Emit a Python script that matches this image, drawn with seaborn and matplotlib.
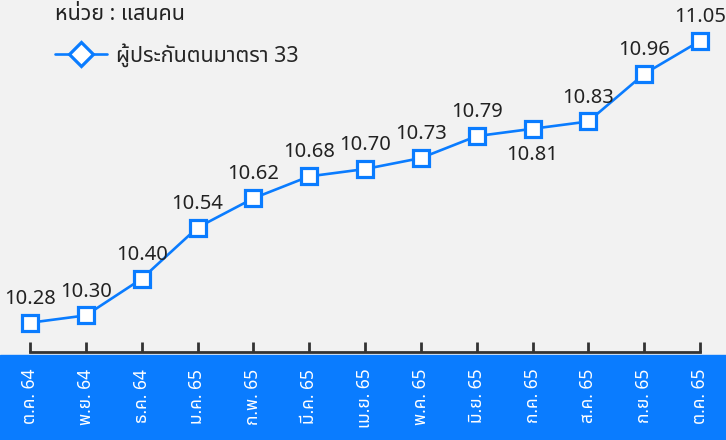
import numpy as np
import pandas as pd
import matplotlib.pyplot as plt
import matplotlib
import seaborn as sns
from matplotlib.lines import Line2D
from matplotlib.patches import Rectangle

months = ['ต.ค. 64', 'พ.ย. 64', 'ธ.ค. 64', 'ม.ค. 65', 'ก.พ. 65', 'มี.ค. 65', 'เม.ย. 65',
          'พ.ค. 65', 'มิ.ย. 65', 'ก.ค. 65', 'ส.ค. 65', 'ก.ย. 65', 'ต.ค. 65']
insured = [10.28, 10.30, 10.40, 10.54, 10.62, 10.68, 10.70, 10.73, 10.79, 10.81, 10.83, 10.96, 11.05]
series_name = 'ผู้ประกันตนมาตรา 33'
unit_text = 'หน่วย : แสนคน'

blue = '#0a7cff'
bg = '#f2f2f2'

sns.set_style('white')
plt.rcParams['font.family'] = ['Noto Sans Thai', 'Loma', 'Garuda', 'Tlwg Typo', 'Noto Sans', 'DejaVu Sans']

df = pd.DataFrame({'pos': np.arange(len(months)), 'value': insured})

fig = plt.figure(figsize=(7.26, 4.40), dpi=100, facecolor=bg)

# blue band behind the month labels
fig.patches.append(Rectangle((0, 0), 1, 85 / 440, transform=fig.transFigure,
                             color=blue, zorder=-5))

ax = fig.add_axes([30 / 726, 88 / 440, 670 / 726, 352 / 440])
ax.set_facecolor('none')
ax.set_zorder(2)

sns.lineplot(data=df, x='pos', y='value', ax=ax, color=blue, linewidth=1.9,
             marker='s', markersize=12, markerfacecolor='white',
             markeredgecolor=blue, markeredgewidth=2.3, clip_on=False)

for i, v in enumerate(insured):
    if i == 9:
        ax.annotate(f'{v:.2f}', (i, v), xytext=(0, -12), textcoords='offset points',
                    ha='center', va='top', fontsize=14.5, color='#222222')
    else:
        ax.annotate(f'{v:.2f}', (i, v), xytext=(0, 10), textcoords='offset points',
                    ha='center', va='bottom', fontsize=14.5, color='#222222')

ax.set_xlim(0, len(months) - 1)
ax.set_ylim(10.2, 11.162)
ax.set_xticks(df['pos'])
ax.set_xticklabels(months, rotation=90, color='white', fontsize=12.5)
ax.set_yticks([])
ax.set_xlabel('')
ax.set_ylabel('')
for s in ['top', 'left', 'right']:
    ax.spines[s].set_visible(False)
ax.spines['bottom'].set_color('#333333')
ax.spines['bottom'].set_linewidth(2)
ax.tick_params(axis='x', bottom=True, direction='in', length=7, width=2,
               color='#333333', pad=12)

fig.text(55 / 726, 1 - 14 / 440, unit_text, fontsize=15.5, color='#222222', va='center')
handle = Line2D([], [], color=blue, linewidth=1.9, marker='D', markersize=12,
                markerfacecolor='white', markeredgecolor=blue, markeredgewidth=2.3)
fig.legend([handle], [series_name], loc='center left',
           bbox_to_anchor=(55 / 726, 1 - 55 / 440), frameon=False, fontsize=15.5,
           handlelength=2.4, handletextpad=0.45, borderpad=0, borderaxespad=0)

fig.savefig('out.png', dpi=100, facecolor=bg)
